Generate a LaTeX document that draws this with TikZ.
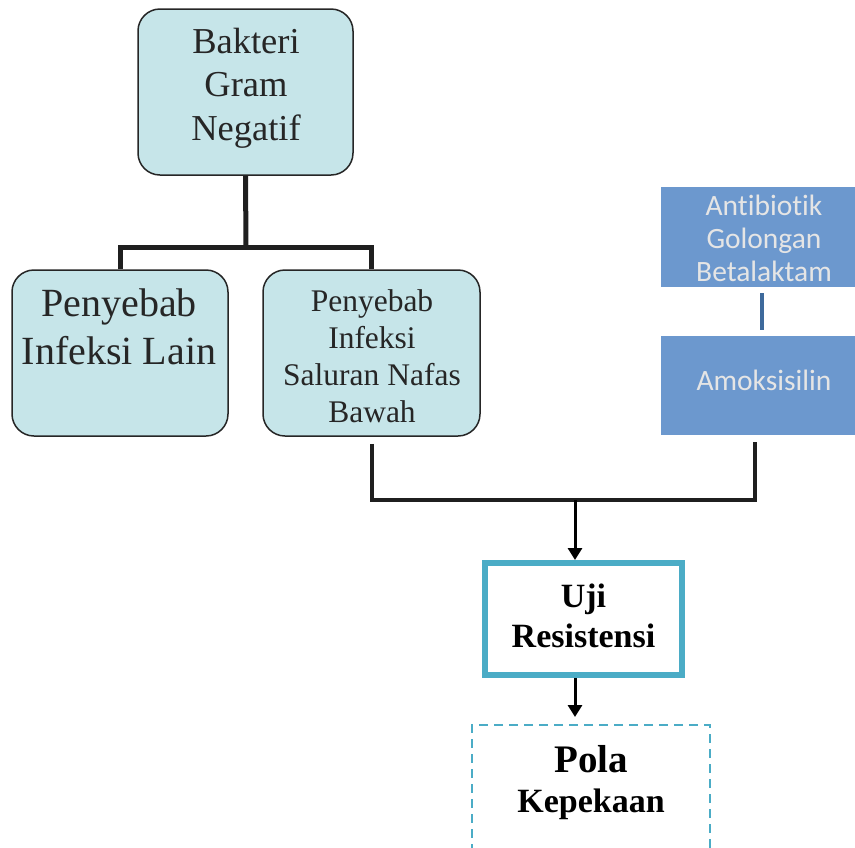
\documentclass[tikz,border=0pt]{standalone}
\usepackage{fontspec}
\setmainfont{Liberation Serif}
\newfontfamily\calibrifont[Ligatures=NoCommon]{Carlito}
\usetikzlibrary{arrows.meta,calc}
\definecolor{cyanfill}{HTML}{C6E5E9}
\definecolor{bluefill}{HTML}{6C98CE}
\definecolor{bluedark}{HTML}{3E6A9C}
\definecolor{ujicol}{HTML}{4BACC6}
\tikzset{
  cyanbox/.style={draw=black!85, line width=1.5pt, fill=cyanfill, rounded corners=22pt, inner sep=0pt},
  bluebox/.style={fill=bluefill, draw=none, inner sep=0pt},
  txt/.style={align=center, inner sep=0pt},
  tree/.style={line width=5pt, black!88},
  link/.style={line width=3.5pt, black!88},
  arr/.style={line width=3pt, black, -{Triangle[length=12pt,width=14pt]}},
}
\begin{document}
\begin{tikzpicture}[x=1pt,y=-1pt]
\useasboundingbox (0,0) rectangle (855,847);
\clip (0,0) rectangle (855,847);
% boxes
\node[cyanbox, minimum width=215pt, minimum height=166pt] (top) at (245.5,92) {};
\node[cyanbox, minimum width=216pt, minimum height=166pt] (left) at (120,353) {};
\node[cyanbox, minimum width=217pt, minimum height=166pt] (mid) at (371.5,353) {};
\node[bluebox, minimum width=196pt, minimum height=100pt] (anti) at (759,237) {};
\node[bluebox, minimum width=196pt, minimum height=99pt] (amok) at (759,385.5) {};
\node[draw=ujicol, line width=6pt, fill=white, minimum width=197pt, minimum height=112pt, inner sep=0pt] (uji) at (583.5,619) {};
\node[draw=ujicol, line width=2pt, dash pattern=on 9pt off 6pt, minimum width=238pt, minimum height=200pt, inner sep=0pt] (pola) at (591,825) {};
% texts
\node[txt, font=\fontsize{36.5}{43.5}\selectfont, text=black!85] (ttop) at (246,88) {Bakteri\\Gram\\Negatif};
\node[txt, font=\fontsize{40}{48}\selectfont, text=black!85] (tleft) at (119,327) {Penyebab\\Infeksi Lain};
\node[txt, font=\fontsize{31.5}{37}\selectfont, text=black!85] (tmid) at (372,356) {Penyebab\\Infeksi\\Saluran Nafas\\Bawah};
\node[txt, font=\calibrifont\fontsize{29.5}{33}\selectfont, text=white!90!black] (tanti) at (764,238.5) {Antibiotik\\Golongan\\Betalaktam};
\node[txt, font=\calibrifont\fontsize{29.5}{33}\selectfont, text=white!90!black] (tamok) at (764,380) {Amoksisilin};
\node[txt, font=\bfseries\fontsize{34}{40}\selectfont] (tuji) at (583.5,616) {Uji\\Resistensi};
\node[txt, font=\bfseries\fontsize{34}{40}\selectfont] (tpola) at (591,783) {{\fontsize{39}{40}\selectfont Pola}\\Kepekaan};
% tree connectors
\coordinate (tj) at (246,247);
\draw[tree] (top.south) -- (tj);
\draw[tree] (left.north) |- (tj) -| (mid.north);
% blue link
\draw[line width=3.5pt, bluedark] ($(anti.south)+(3,6)$) -- ($(amok.north)+(3,-6)$);
% bottom connectors
\coordinate (bj) at (575,500);
\draw[link] ($(mid.south)+(0.5,7)$) |- (bj) -| ($(amok.south)+(-4,7)$);
\draw[arr] (bj) -- (bj |- uji.north);
\draw[arr, shorten >=7pt] (bj |- uji.south) -- (bj |- pola.north);
\end{tikzpicture}
\end{document}
